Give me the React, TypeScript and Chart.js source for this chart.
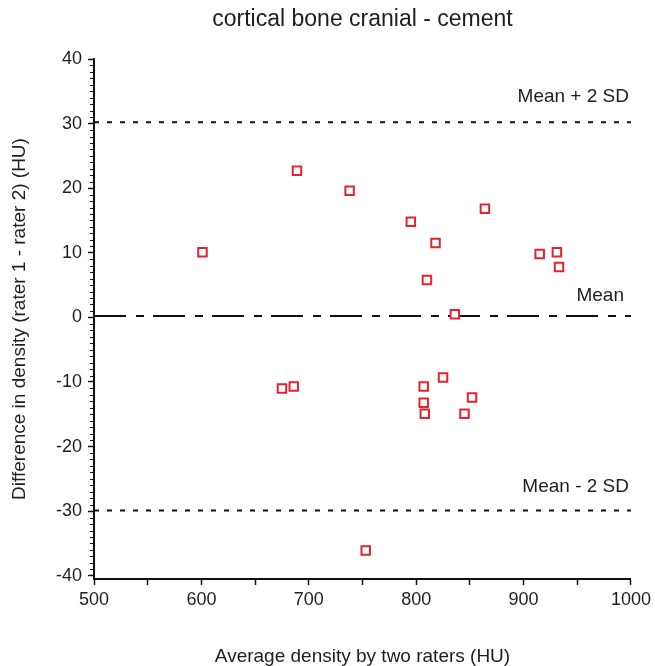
import React, { useEffect, useRef } from "react";
import { Chart, registerables } from "chart.js";

Chart.register(...registerables);

const titleText = "cortical bone cranial - cement";
const xAxisTitle = "Average density by two raters (HU)";
const yAxisTitle = "Difference in density (rater 1 - rater 2) (HU)";

const avgDensity = [601, 689, 738, 795, 864, 818, 915, 931, 933, 810, 836, 675, 686, 753, 807, 825, 807, 808, 852, 845];
const diffDensity = [10.1, 22.7, 19.6, 14.8, 16.8, 11.5, 9.8, 10.1, 7.8, 5.8, 0.5, -11.0, -10.7, -36.1, -10.7, -9.3, -13.2, -14.9, -12.4, -14.9];

const meanDiff = 0.2;
const upperLimit = 30.2;
const lowerLimit = -29.9;
const limitLabels = ["Mean + 2 SD", "Mean", "Mean - 2 SD"];

const xMin = 500;
const xMax = 1000;
const yMin = -40.5;
const yMax = 40;

const FONT = '"Liberation Sans", Arial, sans-serif';
const TEXT = "#1e1e1e";

const overlayPlugin = {
  id: "overlay",
  afterDraw(chart: any) {
    const { ctx, chartArea } = chart;
    const y = chart.scales.y;
    ctx.save();
    ctx.strokeStyle = "#111";
    ctx.lineWidth = 1;
    for (let v = Math.ceil(y.min); v <= y.max; v++) {
      if (v % 10 === 0) continue;
      const py = Math.round(y.getPixelForValue(v)) + 0.5;
      ctx.beginPath();
      ctx.moveTo(chartArea.left - 4, py);
      ctx.lineTo(chartArea.left, py);
      ctx.stroke();
    }
    ctx.font = `19px ${FONT}`;
    ctx.fillStyle = TEXT;
    ctx.textAlign = "right";
    ctx.textBaseline = "middle";
    const vals = [upperLimit, meanDiff, lowerLimit];
    const offs = [26, 20, 24];
    const rights = [2, 7, 2];
    vals.forEach((v, i) => {
      ctx.fillText(limitLabels[i], chartArea.right - rights[i], y.getPixelForValue(v) - offs[i]);
    });
    ctx.restore();
  },
};

function lineData(v: number) {
  return [
    { x: xMin, y: v },
    { x: xMax, y: v },
  ];
}

export default function App() {
  const ref = useRef<HTMLCanvasElement>(null);
  useEffect(() => {
    const canvas = ref.current;
    if (!canvas) return;
    const chart = new Chart(canvas, {
      type: "scatter",
      data: {
        datasets: [
          {
            label: "points",
            data: avgDensity.map((x, i) => ({ x, y: diffDensity[i] })),
            pointStyle: "rect",
            pointRadius: 6,
            borderWidth: 2,
            borderColor: "#e3232f",
            backgroundColor: "#ffffff",
          },
          {
            label: "mean",
            data: lineData(meanDiff),
            showLine: true,
            pointRadius: 0,
            borderColor: "#111",
            borderWidth: 2,
            borderDash: [32, 10, 8, 9],
          },
          {
            label: "upper",
            data: lineData(upperLimit),
            showLine: true,
            pointRadius: 0,
            borderColor: "#111",
            borderWidth: 2,
            borderDash: [5, 8],
          },
          {
            label: "lower",
            data: lineData(lowerLimit),
            showLine: true,
            pointRadius: 0,
            borderColor: "#111",
            borderWidth: 2,
            borderDash: [5, 8],
          },
        ],
      },
      options: {
        responsive: false,
        animation: false,
        layout: { padding: { left: 0, right: 21, top: 0, bottom: 0 } },
        plugins: {
          legend: { display: false },
          tooltip: { enabled: false },
          title: {
            display: true,
            text: titleText,
            fullSize: false,
            color: TEXT,
            font: { family: FONT, size: 23, weight: "normal", lineHeight: 1.2 },
            padding: { top: 6, bottom: 25.4 },
          },
        },
        scales: {
          x: {
            type: "linear",
            min: xMin,
            max: xMax,
            afterFit: (s: any) => {
              s.height = 87;
            },
            ticks: {
              stepSize: 50,
              autoSkip: false,
              maxRotation: 0,
              color: TEXT,
              font: { family: FONT, size: 18 },
              padding: 4,
              callback: (v: any) => (Number(v) % 100 === 0 ? String(v) : ""),
            },
            grid: { drawOnChartArea: false, tickLength: 6, color: "#111", tickWidth: 1.5 },
            border: { color: "#111", width: 2 },
            title: {
              display: true,
              text: xAxisTitle,
              color: TEXT,
              font: { family: FONT, size: 19, lineHeight: 1 },
              padding: { top: 0, bottom: 0 },
            },
          },
          y: {
            type: "linear",
            min: yMin,
            max: yMax,
            afterFit: (s: any) => {
              s.width = 94;
            },
            ticks: {
              stepSize: 10,
              includeBounds: false,
              color: TEXT,
              font: { family: FONT, size: 18 },
              padding: 6,
            },
            grid: { drawOnChartArea: false, tickLength: 6, color: "#111", tickWidth: 1.5 },
            border: { color: "#111", width: 2 },
            title: {
              display: true,
              text: yAxisTitle,
              color: TEXT,
              font: { family: FONT, size: 19, lineHeight: 1.2 },
              padding: { top: 8.6, bottom: 0 },
            },
          },
        },
      },
      plugins: [overlayPlugin],
    } as any);
    return () => chart.destroy();
  }, []);
  return (
    <div style={{ position: "absolute", left: 0, top: 0, width: 655, height: 666, background: "#fff" }}>
      <canvas ref={ref} width={655} height={666} style={{ display: "block" }} />
    </div>
  );
}
